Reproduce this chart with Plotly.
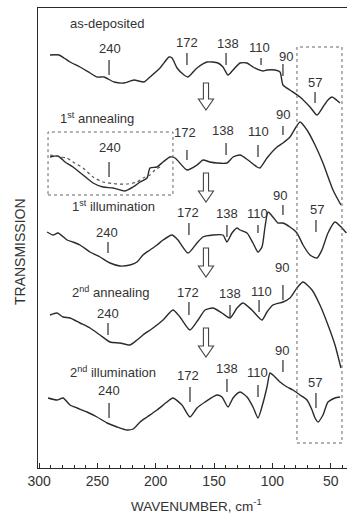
import plotly.graph_objects as go

# ---------------- data (wavenumber, transmission in arbitrary offset units) ----------------
wn_dep = [290.6, 282.9, 278.6, 273.4, 264.9, 256.3, 250.3, 244.3, 235.7, 227.2, 218.6, 210.0, 204.9,
          196.3, 188.6, 186.0, 181.7, 175.7, 172.3, 164.6, 156.0, 146.6, 142.3, 138.0, 133.7, 127.7,
          121.7, 116.6, 108.0, 104.6, 97.7, 93.4, 90.9, 84.9, 76.3, 67.7, 61.7, 56.6, 52.3, 48.9, 42.0]
tr_dep = [413, 413, 410, 406, 401, 395, 391, 391, 386, 385, 388, 386, 391,
          400, 411, 410, 400, 393, 391, 400, 406, 405, 401, 393, 398, 405,
          405, 401, 397, 398, 398, 396, 383, 378, 371, 361, 353, 361, 368, 371, 365]

wn_ann1 = [290.6, 283.7, 277.7, 270.9, 262.3, 253.7, 245.2, 236.6, 226.3, 219.4, 213.4, 207.4, 204.9,
           198.9, 193.7, 187.7, 183.4, 173.2, 164.6, 159.5, 153.5, 147.5, 138.9, 133.7, 127.7, 120.9,
           113.1, 110.6, 104.6, 96.0, 90.9, 84.9, 76.3, 70.3, 63.4, 56.6, 48.0, 41.2]
tr_ann1 = [311, 312, 306, 301, 293, 285, 281, 280, 277, 281, 286, 290, 300,
           301, 306, 311, 310, 298, 303, 308, 306, 305, 305, 311, 313, 308,
           301, 300, 310, 321, 325, 331, 346, 338, 323, 305, 278, 263]

wn_ann1_ref = [290.6, 282.0, 276.0, 270.9, 262.3, 253.7, 245.2, 233.1, 224.6, 216.0, 210.9, 204.9, 200.6, 196.3]
tr_ann1_ref = [313, 311, 310, 306, 300, 291, 286, 284, 284, 286, 290, 293, 298, 301]

wn_ill1 = [293.1, 288.0, 283.7, 276.0, 270.9, 264.9, 256.3, 247.7, 239.1, 230.6, 222.0, 216.0, 210.9,
           204.9, 198.9, 193.7, 186.0, 180.9, 172.3, 164.6, 159.5, 150.9, 142.3, 138.9, 134.6, 130.3,
           127.7, 121.7, 116.6, 112.3, 108.9, 106.3, 103.7, 99.5, 95.2, 90.9, 84.9, 78.9, 73.7, 67.7,
           61.7, 57.5, 52.3, 46.3, 40.3, 36.5]
tr_ill1 = [236, 233, 235, 228, 226, 223, 216, 211, 205, 202, 203, 206, 213,
           218, 223, 228, 233, 228, 215, 225, 231, 233, 233, 226, 235, 240,
           238, 235, 225, 216, 221, 241, 256, 251, 245, 245, 241, 235, 223, 213,
           210, 218, 235, 246, 240, 235]

wn_ann2 = [290.6, 284.6, 279.4, 273.4, 264.9, 256.3, 247.7, 239.1, 230.6, 222.0, 216.0, 210.9, 202.3,
           193.7, 185.2, 179.2, 170.6, 163.7, 157.7, 150.9, 143.2, 136.3, 130.3, 125.2, 117.5, 108.9,
           104.6, 99.5, 90.9, 84.9, 78.9, 73.7, 66.0, 59.2, 52.3, 46.3, 41.2]
tr_ann2 = [153, 155, 151, 150, 145, 140, 133, 126, 125, 123, 128, 133, 140,
           148, 158, 151, 138, 148, 158, 160, 155, 150, 160, 165, 158, 148,
           156, 163, 166, 170, 180, 186, 178, 163, 143, 123, 100]

wn_ill2 = [292.3, 284.6, 279.4, 273.4, 267.4, 258.9, 250.3, 241.7, 233.1, 224.6, 219.4, 213.4, 207.4,
           198.9, 190.3, 185.2, 177.5, 170.6, 164.6, 157.7, 147.5, 143.2, 138.0, 133.7, 127.7, 121.7,
           116.6, 112.3, 108.0, 104.6, 102.0, 99.5, 93.4, 87.4, 82.3, 76.3, 70.3, 66.0, 63.4, 60.9,
           56.6, 52.3, 46.3, 42.0]
tr_ill2 = [70, 68, 70, 63, 60, 56, 51, 45, 41, 38, 39, 46, 51,
           58, 66, 70, 63, 51, 60, 66, 73, 71, 61, 70, 76, 71,
           61, 50, 65, 81, 95, 93, 86, 81, 78, 73, 68, 58, 50, 46,
           53, 66, 70, 71]

x_ticks = [300, 250, 200, 150, 100, 50]
x_tick_labels = ["300", "250", "200", "150", "100", "50"]

# ---------------- styles / layout helpers ----------------
LINE = "#2b2b2b"
TEXT = "#333333"
FONT = "Liberation Sans, Arial, sans-serif"

fig = go.Figure()
for xs, ys in [(wn_dep, tr_dep), (wn_ann1, tr_ann1), (wn_ill1, tr_ill1), (wn_ann2, tr_ann2), (wn_ill2, tr_ill2)]:
    fig.add_trace(go.Scatter(x=xs, y=ys, mode="lines", line=dict(color=LINE, width=1.4, shape="spline", smoothing=0.6),
                             showlegend=False, hoverinfo="skip"))
fig.add_trace(go.Scatter(x=wn_ann1_ref, y=tr_ann1_ref, mode="lines",
                         line=dict(color="#555555", width=1.2, dash="dot", shape="spline", smoothing=0.6),
                         showlegend=False, hoverinfo="skip"))

annotations = []
def label(text, x, y, size=13):
    annotations.append(dict(x=x, y=y, xref="x", yref="y", text=text, showarrow=False,
                            font=dict(family=FONT, size=size, color=TEXT), xanchor="center", yanchor="middle"))

shapes = []
def mark(x, y0, y1):
    shapes.append(dict(type="line", xref="x", yref="y", x0=x, x1=x, y0=y0, y1=y1,
                       line=dict(color=LINE, width=1.2)))

def arrow(x, top, bottom):
    sw, hw, hh = 2.2, 6.5, 11
    path = (f"M {x-sw},{top} L {x+sw},{top} L {x+sw},{bottom+hh} L {x+hw},{bottom+hh} "
            f"L {x},{bottom} L {x-hw},{bottom+hh} L {x-sw},{bottom+hh} Z")
    shapes.append(dict(type="path", xref="x", yref="y", path=path,
                       line=dict(color="#444444", width=1.1), fillcolor="rgba(0,0,0,0)"))

# as-deposited
label("as-deposited", 241.7, 445)
for t, lx, ly, mx, m0, m1 in [("240", 239.1, 420, 240.0, 408, 393), ("172", 173.2, 426, 173.2, 415, 403),
                               ("138", 138.0, 425, 139.7, 415, 403), ("110", 110.6, 421, 109.7, 410, 403),
                               ("90", 88.3, 412, 90.9, 404, 392), ("57", 63.4, 386, 63.4, 376, 365)]:
    label(t, lx, ly); mark(mx, m0, m1)
# 1st annealing
label("1<sup>st</sup> annealing", 250.3, 350)
for t, lx, ly, mx, m0, m1 in [("240", 239.1, 321, 240.0, 306, 291), ("172", 174.9, 336, 173.2, 318, 308),
                               ("138", 142.3, 338, 139.7, 325, 313), ("110", 112.3, 337, 112.3, 323, 311),
                               ("90", 90.9, 354, 90.9, 342, 333)]:
    label(t, lx, ly); mark(mx, m0, m1)
# 1st illumination
label("1<sup>st</sup> illumination", 236.6, 262)
for t, lx, ly, mx, m0, m1 in [("240", 241.7, 236, 240.9, 226, 215), ("172", 172.3, 256, 171.5, 245, 233),
                               ("138", 138.9, 255, 138.9, 243, 231), ("110", 113.1, 255, 112.3, 243, 235),
                               ("90", 93.4, 273, 90.9, 263, 253), ("57", 61.7, 259, 62.6, 248, 236)]:
    label(t, lx, ly); mark(mx, m0, m1)
# 2nd annealing
label("2<sup>nd</sup> annealing", 239.1, 176)
for t, lx, ly, mx, m0, m1 in [("240", 240.9, 155, 240.9, 145, 133), ("172", 172.3, 176, 171.5, 166, 153),
                               ("138", 136.3, 175, 136.3, 163, 151), ("110", 108.9, 177, 111.4, 168, 156),
                               ("90", 91.7, 201, 90.9, 183, 168)]:
    label(t, lx, ly); mark(mx, m0, m1)
# 2nd illumination
label("2<sup>nd</sup> illumination", 236.6, 96)
for t, lx, ly, mx, m0, m1 in [("240", 240.0, 78, 240.0, 65, 50), ("172", 172.3, 93, 170.6, 81, 66),
                               ("138", 138.9, 100, 138.9, 89, 76), ("110", 113.1, 96, 112.3, 83, 71),
                               ("90", 91.7, 118, 90.9, 108, 96), ("57", 63.4, 86, 62.6, 75, 60)]:
    label(t, lx, ly); mark(mx, m0, m1)

for top, bottom in [(385, 358), (295, 266), (220, 191), (140, 111)]:
    arrow(156.9, top, bottom)

# dotted boxes
shapes.append(dict(type="rect", xref="x", yref="y", x0=78.9, x1=40.3, y0=25, y1=421,
                   line=dict(color="#666666", width=1, dash="dot")))
shapes.append(dict(type="rect", xref="x", yref="y", x0=292.3, x1=185.2, y0=273, y1=336,
                   line=dict(color="#666666", width=1, dash="dot")))

annotations.append(dict(x=0, y=216, xref="paper", yref="y", xshift=-18, text="TRANSMISSION",
                        textangle=-90, showarrow=False, font=dict(family=FONT, size=14, color=TEXT),
                        xanchor="center", yanchor="middle"))
annotations.append(dict(x=164.6, y=0, xref="x", yref="paper", yshift=-37, text="WAVENUMBER, cm<sup>-1</sup>",
                        showarrow=False, font=dict(family=FONT, size=13.5, color=TEXT),
                        xanchor="center", yanchor="middle"))

fig.update_layout(
    width=347, height=517,
    margin=dict(l=38, r=0, t=8, b=49),
    paper_bgcolor="white", plot_bgcolor="white",
    shapes=shapes, annotations=annotations,
    xaxis=dict(range=[300.9, 36.0], tickvals=x_ticks, ticktext=x_tick_labels, ticks="inside", ticklen=5,
               tickcolor=LINE, tickwidth=1, showline=True, linecolor=LINE, linewidth=1.3, mirror=True,
               showgrid=False, zeroline=False, tickfont=dict(family=FONT, size=14, color=TEXT),
               minor=dict(dtick=10, tick0=0, ticks="inside", ticklen=3, tickcolor=LINE, showgrid=False)),
    yaxis=dict(range=[0, 460], showticklabels=False, ticks="", showline=True, linecolor=LINE, linewidth=1.3,
               mirror=False, showgrid=False, zeroline=False),
)
fig.write_html("out.html", config={"displayModeBar": False},
               post_script="document.body.style.margin='0';document.body.style.overflow='hidden';")
